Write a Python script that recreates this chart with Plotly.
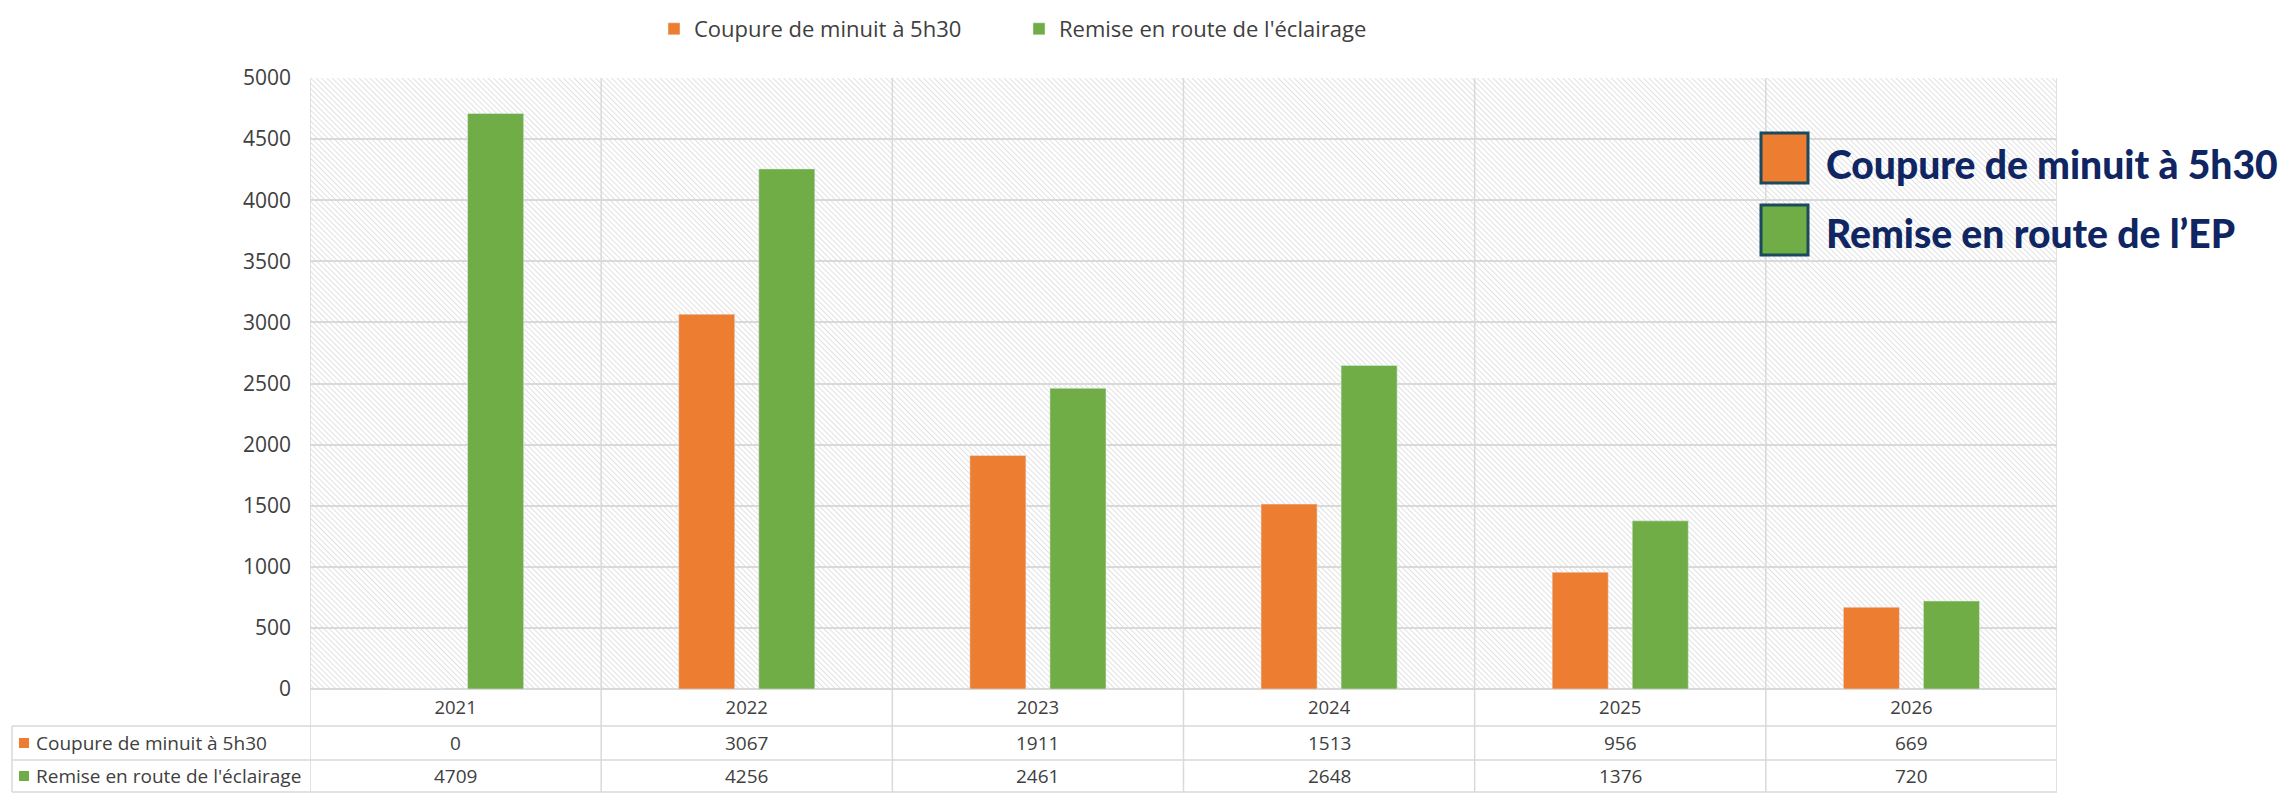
import base64
import plotly.graph_objects as go

# ---------------- data ----------------
years = ["2021", "2022", "2023", "2024", "2025", "2026"]
coupure = [0, 3067, 1911, 1513, 956, 669]
remise = [4709, 4256, 2461, 2648, 1376, 720]
series_names = ["Coupure de minuit à 5h30", "Remise en route de l'éclairage"]
callout_labels = ["Coupure de minuit à 5h30", "Remise en route de l’EP"]
y_ticks = list(range(0, 5001, 500))

# ---------------- style ----------------
ORANGE = "#ED7D31"
GREEN = "#70AD47"
TXT = "#404040"
GRID = "#d9d9d9"
NAVY = "#0f2662"
BOXLINE = "#1b4a5c"
FONT = "Open Sans"

PAGE_W, PAGE_H = 2291, 793
OFF = 8  # default body margin of the html page
W, H = PAGE_W - OFF, PAGE_H - OFF
# plot area in page pixel coordinates
L, R, T, B = 310, 2057, 78, 689


def px(x):
    return (x - L) / (R - L)


def py(y):
    return (B - y) / (B - T)


# hatched background as svg
pw, ph = R - L, B - T
svg = f'''<svg xmlns="http://www.w3.org/2000/svg" width="{pw}" height="{ph}" viewBox="0 0 {pw} {ph}" preserveAspectRatio="none">
<defs><pattern id="h" width="3.8" height="3.8" patternUnits="userSpaceOnUse" patternTransform="rotate(-45)">
<line x1="0" y1="0" x2="0" y2="3.8" stroke="#d2d2d2" stroke-width="1.3"/></pattern></defs>
<rect width="100%" height="100%" fill="#ffffff"/><rect width="100%" height="100%" fill="url(#h)"/></svg>'''
svg_uri = "data:image/svg+xml;base64," + base64.b64encode(svg.encode()).decode()

fig = go.Figure()
fig.add_trace(go.Bar(x=years, y=coupure, name=series_names[0], marker=dict(color=ORANGE)))
fig.add_trace(go.Bar(x=years, y=remise, name=series_names[1], marker=dict(color=GREEN)))

shapes = []
annotations = []
n = len(years)
# vertical boundary lines (plot + table)
for i in range(n + 1):
    shapes.append(dict(type="line", xref="x", yref="paper", x0=i - 0.5, x1=i - 0.5,
                       y0=py(792), y1=1, line=dict(color=GRID, width=1.5), layer="above"))
# horizontal table lines
for yy in (726, 760, 792):
    shapes.append(dict(type="line", xref="paper", yref="paper", x0=px(12), x1=1,
                       y0=py(yy), y1=py(yy), line=dict(color=GRID, width=1.5)))
shapes.append(dict(type="line", xref="paper", yref="paper", x0=px(12), x1=px(12),
                   y0=py(726), y1=py(792), line=dict(color=GRID, width=1.5)))

# table rows
row_y = [743, 776]
row_vals = [coupure, remise]
row_cols = [ORANGE, GREEN]
for r in range(2):
    shapes.append(dict(type="rect", xref="paper", yref="paper", x0=px(19), x1=px(29),
                       y0=py(row_y[r] + 5), y1=py(row_y[r] - 5), fillcolor=row_cols[r],
                       line=dict(width=0)))
    annotations.append(dict(xref="paper", yref="paper", x=px(34), y=py(row_y[r]),
                            xanchor="left", yanchor="middle", showarrow=False,
                            text=series_names[r], font=dict(family=FONT, size=19, color=TXT)))
    for i in range(n):
        annotations.append(dict(xref="x", yref="paper", x=i, y=py(row_y[r]),
                                xanchor="center", yanchor="middle", showarrow=False,
                                text=str(row_vals[r][i]), font=dict(family=FONT, size=19, color=TXT)))

# right-hand callout legend
box_y = [(133, 183), (205, 255)]
text_y = [164, 233]
for k in range(2):
    shapes.append(dict(type="rect", xref="paper", yref="paper", x0=px(1761), x1=px(1808),
                       y0=py(box_y[k][1]), y1=py(box_y[k][0]), fillcolor=row_cols[k],
                       line=dict(color=BOXLINE, width=3), layer="above"))
    annotations.append(dict(xref="paper", yref="paper", x=px(1824), y=py(text_y[k]),
                            xanchor="left", yanchor="middle", showarrow=False,
                            text=callout_labels[k],
                            font=dict(family="Lato", size=39, color=NAVY, weight=900)))

fig.update_layout(
    width=W, height=H,
    margin=dict(l=L - OFF, r=PAGE_W - R, t=T - OFF, b=PAGE_H - B, pad=0),
    paper_bgcolor="white",
    plot_bgcolor="rgba(0,0,0,0)",
    barmode="group", bargap=0.45, bargroupgap=0.3,
    font=dict(family=FONT, color=TXT),
    images=[dict(source=svg_uri, xref="paper", yref="paper", x=0, y=1, sizex=1, sizey=1,
                 xanchor="left", yanchor="top", sizing="stretch", layer="below")],
    legend=dict(orientation="h", xref="container", yref="container",
                x=(654 - OFF) / W, xanchor="left", y=1, yanchor="top",
                font=dict(family=FONT, size=22, color=TXT), entrywidth=320,
                bgcolor="rgba(0,0,0,0)", traceorder="normal"),
    shapes=shapes,
    annotations=annotations,
    xaxis=dict(type="category", range=[-0.5, n - 0.5], showgrid=False, zeroline=False,
               showline=False, ticks="", tickfont=dict(family=FONT, size=18.5, color=TXT),
               ticklabelstandoff=5, fixedrange=True),
    yaxis=dict(range=[0, 5000], tickvals=y_ticks, showgrid=True, gridcolor=GRID, gridwidth=1.5,
               zeroline=True, zerolinecolor=GRID, zerolinewidth=1.5, showline=False, ticks="",
               tickfont=dict(family=FONT, size=21, color=TXT), ticklabelstandoff=18, fixedrange=True),
)

fig.write_html("out.html")
